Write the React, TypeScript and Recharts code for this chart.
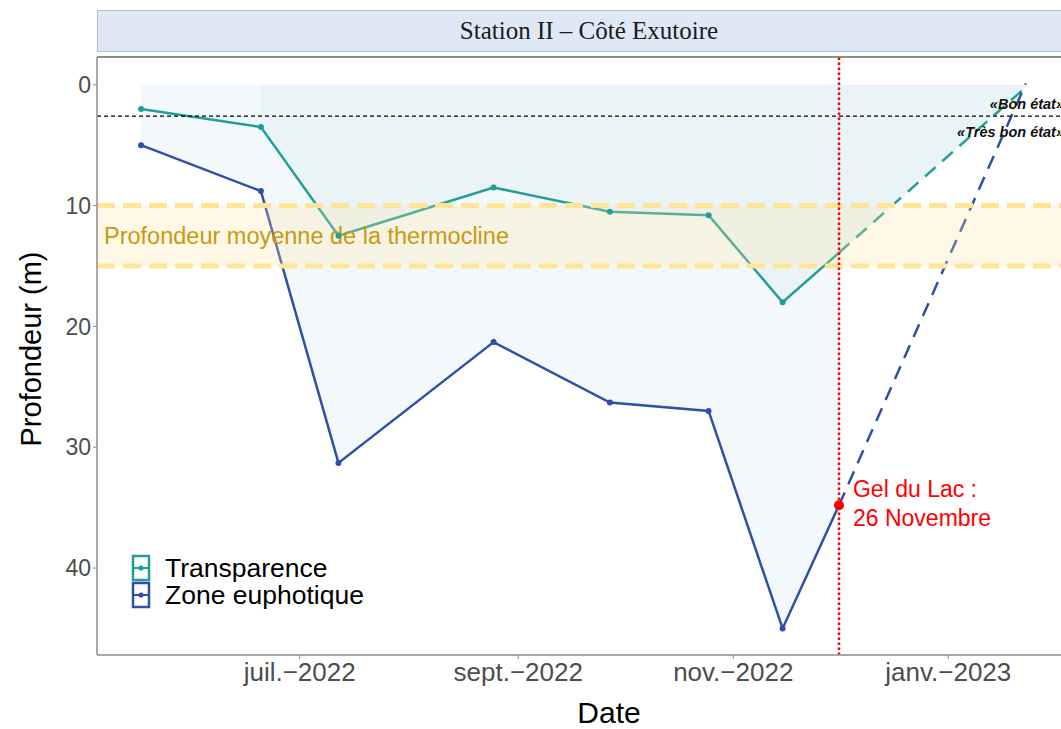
import React from "react";
import {
  ComposedChart, Line, Area, XAxis, YAxis, ReferenceLine, ReferenceArea, ReferenceDot,
} from "recharts";

// ---- data ----
const dates = ["2022-05-17", "2022-06-20", "2022-07-12", "2022-08-25", "2022-09-27", "2022-10-25", "2022-11-15"];
const transparence = [2.0, 3.5, 12.5, 8.5, 10.5, 10.8, 18.0];
const euphotique = [5.0, 8.8, 31.3, 21.3, 26.3, 27.0, 45.0];
const gelDate = "2022-12-01";
const transparenceGel = 13.9;
const euphotiqueGel = 34.8;
const projDate = "2023-01-23";
const transparenceProj = 0.2;
const euphotiqueProj = -0.1;
const bonEtat = 2.6;
const thermocline = [10, 15];
const tickDates = ["2022-07-01", "2022-09-01", "2022-11-01", "2023-01-01"];
const tickLabels = ["juil.\u22122022", "sept.\u22122022", "nov.\u22122022", "janv.\u22122023"];
const yTicks = [0, 10, 20, 30, 40];
const xDomain = ["2022-05-04T12:00:00Z", "2023-02-04T06:00:00Z"];
const yDomain = [-2.3, 47.2];
const seriesNames = ["Transparence", "Zone euphotique"];

const TEAL = "#229E99";
const BLUE = "#2F4FA8";

const toT = (s: string) => Date.parse(s.length > 10 ? s : s + "T00:00:00Z");

const rows: any[] = dates.map((d, i) => ({
  t: toT(d),
  tr: transparence[i],
  eu: euphotique[i],
  light: [0, euphotique[i]],
  dark: i >= 1 ? [0, transparence[i]] : null,
}));
rows.push({
  t: toT(gelDate),
  tr: transparenceGel,
  eu: euphotiqueGel,
  trDash: transparenceGel,
  euDash: euphotiqueGel,
  light: [0, euphotiqueGel],
  dark: [0, transparenceGel],
});
rows.push({
  t: toT(projDate),
  trDash: transparenceProj,
  euDash: euphotiqueProj,
  dark: [0, transparenceProj],
});

const tickTs = tickDates.map(toT);
const fmtTick = (v: number) => {
  const i = tickTs.indexOf(v);
  return i >= 0 ? tickLabels[i] : "";
};

const makeDot = (color: string) => (p: any) => {
  if (p.index >= dates.length || p.cx == null || p.cy == null) return <g key={`d${p.index}`} />;
  return <circle key={`d${p.index}`} cx={p.cx} cy={p.cy} r={3} fill={color} stroke="none" />;
};

const LegendBox = () => (
  <svg width={340} height={60} style={{ display: "block" }}>
    {[TEAL, BLUE].map((c, i) => (
      <g key={i} transform={`translate(0, ${i * 27})`}>
        <rect x={3} y={3} width={16} height={24} fill="#fff" stroke={c} strokeWidth={2.5} />
        <line x1={3} x2={19} y1={15} y2={15} stroke={c} strokeWidth={2} />
        <circle cx={11} cy={15} r={2.6} fill={c} />
        <text x={35} y={24} fontSize={26.5} fill="#000">{seriesNames[i]}</text>
      </g>
    ))}
  </svg>
);

export default function App() {
  return (
    <div
      style={{
        position: "fixed", left: 0, top: 0, width: 1061, height: 729, overflow: "hidden",
        background: "#fff", fontFamily: "'Liberation Sans', Arial, sans-serif",
      }}
    >
      <div
        style={{
          position: "absolute", left: 97, top: 10, width: 984, height: 42,
          background: "#DEE9F5", border: "1px solid #A9BFDF", boxSizing: "border-box",
          display: "flex", alignItems: "center", justifyContent: "center",
          fontFamily: "'Liberation Serif', 'Times New Roman', serif", fontSize: 25, color: "#1a1a1a",
        }}
      >
        Station II – Côté Exutoire
      </div>
      <div style={{ position: "absolute", left: 0, top: 0 }}>
        <ComposedChart
          width={1100}
          height={729}
          data={rows}
          margin={{ top: 57, right: 31, bottom: 0, left: 0 }}
        >
          <XAxis
            dataKey="t"
            type="number"
            domain={xDomain.map(toT)}
            allowDataOverflow
            ticks={tickTs}
            tickFormatter={fmtTick}
            height={74}
            tickSize={4}
            tickMargin={4}
            tick={{ fill: "#4D4D4D", fontSize: 26 }}
            stroke="#8C8C8C"
            axisLine={{ stroke: "#8C8C8C", strokeWidth: 1.5 }}
            tickLine={{ stroke: "#8C8C8C" }}
            label={() => (
              <text x={609} y={723} textAnchor="middle" fontSize={30} fill="#000">Date</text>
            )}
          />
          <YAxis
            type="number"
            reversed
            domain={yDomain}
            allowDataOverflow
            ticks={yTicks}
            width={97}
            tickSize={4}
            tickMargin={2}
            tick={{ fill: "#4D4D4D", fontSize: 23 }}
            axisLine={{ stroke: "#8C8C8C", strokeWidth: 1.5 }}
            tickLine={{ stroke: "#8C8C8C" }}
            label={() => (
              <text x={41} y={349} textAnchor="middle" fontSize={29} fill="#000" transform="rotate(-90, 41, 349)">
                Profondeur (m)
              </text>
            )}
          />
          <Area dataKey="light" type="linear" fill="#F3F9FA" fillOpacity={1} stroke="none" isAnimationActive={false} dot={false} activeDot={false} />
          <Area dataKey="dark" type="linear" fill="#EAF4F7" fillOpacity={1} stroke="none" isAnimationActive={false} dot={false} activeDot={false} />
          <Line dataKey="tr" type="linear" stroke={TEAL} strokeWidth={2.5} dot={makeDot(TEAL)} activeDot={false} isAnimationActive={false} />
          <Line dataKey="eu" type="linear" stroke={BLUE} strokeWidth={2.5} dot={makeDot(BLUE)} activeDot={false} isAnimationActive={false} />
          <Line dataKey="trDash" type="linear" stroke={TEAL} strokeWidth={2.5} strokeDasharray="14 9" dot={false} activeDot={false} isAnimationActive={false} />
          <Line dataKey="euDash" type="linear" stroke={BLUE} strokeWidth={2.5} strokeDasharray="14 9" dot={false} activeDot={false} isAnimationActive={false} />
          <ReferenceArea
            y1={thermocline[0]}
            y2={thermocline[1]}
            fill="#FFE4A0"
            fillOpacity={0.25}
            stroke="none"
            zIndex={450}
            label={(p: any) => {
              const vb = p.viewBox || {};
              return (
                <text x={vb.x + 7} y={vb.y + vb.height / 2 + 8} fontSize={23.5} fill="#C9990F">
                  Profondeur moyenne de la thermocline
                </text>
              );
            }}
          />
          <ReferenceLine y={thermocline[0]} stroke="#FFE597" strokeWidth={5} strokeDasharray="18 8" zIndex={460} />
          <ReferenceLine y={thermocline[1]} stroke="#FFE597" strokeWidth={5} strokeDasharray="18 8" zIndex={460} />
          <ReferenceLine
            y={bonEtat}
            stroke="#000"
            strokeWidth={1.3}
            strokeDasharray="4 3"
            zIndex={470}
            label={(p: any) => {
              const vb = p.viewBox || {};
              const xr = vb.x + vb.width - 5;
              return (
                <g>
                  <text x={xr} y={vb.y - 7} textAnchor="end" fontSize={14.5} fontWeight="bold" fontStyle="italic" fill="#111">«Bon état»</text>
                  <text x={xr} y={vb.y + 21} textAnchor="end" fontSize={14.5} fontWeight="bold" fontStyle="italic" fill="#111">«Très bon état»</text>
                </g>
              );
            }}
          />
          <ReferenceLine y={yDomain[0]} stroke="#666" strokeWidth={1.5} zIndex={470} />
          <ReferenceLine x={toT(gelDate)} stroke="#FF0000" strokeWidth={2.5} strokeDasharray="2.5 2.5" zIndex={480} />
          <ReferenceDot
            x={toT(gelDate)}
            y={euphotiqueGel}
            r={5}
            fill="#FF0000"
            stroke="none"
            zIndex={490}
            label={(p: any) => {
              const vb = p.viewBox || {};
              const cx = vb.x + (vb.width || 0) / 2;
              const cy = vb.y + (vb.height || 0) / 2;
              return (
                <g>
                  <text x={cx + 14} y={cy - 8} fontSize={23} fill="#FF0000">Gel du Lac :</text>
                  <text x={cx + 14} y={cy + 21} fontSize={23} fill="#FF0000">26 Novembre</text>
                </g>
              );
            }}
          />
        </ComposedChart>
      </div>
      <div style={{ position: "absolute", left: 130, top: 553 }}>
        <LegendBox />
      </div>
    </div>
  );
}
